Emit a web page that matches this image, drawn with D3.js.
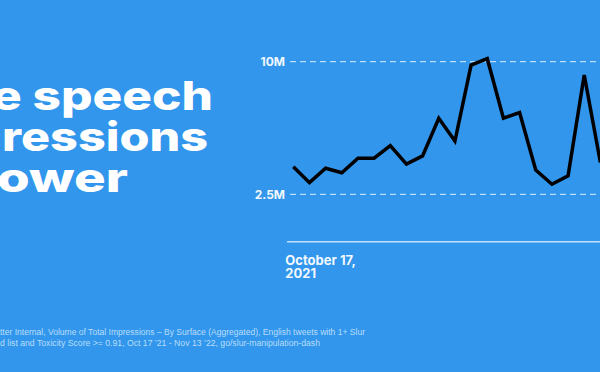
<!DOCTYPE html>
<html>
<head>
<meta charset="utf-8">
<script src="https://cdn.jsdelivr.net/npm/d3@7"></script>
<style>
  body { margin: 0; padding: 0; background: #3196ec; overflow: hidden; }
  svg { display: block; }
  .title { font-family: Inter, "Noto Sans", sans-serif; font-weight: 800; fill: #fff; }
  .tick-label { font-family: Inter, sans-serif; font-weight: 700; fill: #f2f8ff; }
  .note { font-family: "Liberation Sans", Arial, sans-serif; fill: #d6eafc; fill-opacity: 0.85; }
</style>
</head>
<body>
<div id="chart"></div>
<script>
// weekly impressions, starting Oct 17 2021 (millions)
let weekStart = new Date(2021, 9, 17);
let impressions = [4.06, 3.16, 3.97, 3.72, 4.54, 4.54, 5.25, 4.21, 4.67, 6.80,
                   5.51, 9.81, 10.17, 6.80, 7.12, 3.87, 3.07, 3.55, 9.25, 4.30];
let yTicks = [2.5, 10];
let yTickLabels = ["2.5M", "10M"];
let titleLines = ["e speech", "ressions", "ower"];
let dateLabel = ["October 17,", "2021"];
let noteLines = [
  "tter Internal, Volume of Total Impressions \u2013 By Surface (Aggregated), English tweets with 1+ Slur",
  "d list and Toxicity Score >= 0.91, Oct 17 \u201921 - Nov 13 \u201922, go/slur-manipulation-dash"
];

let width = 600, height = 372;

let data = impressions.map(function (v, i) {
  return { date: d3.timeWeek.offset(weekStart, i), value: v };
});

let svg = d3.select("#chart").append("svg")
  .attr("width", width)
  .attr("height", height);

svg.append("rect")
  .attr("width", width)
  .attr("height", height)
  .attr("fill", "#3196ec");

let x = d3.scaleTime()
  .domain([data[0].date, data[data.length - 1].date])
  .range([293.3, 600.4]);

let y = d3.scaleLinear()
  .domain([2.5, 10])
  .range([194.3, 61.7]);

// title (cropped on the left, as in the original)
let titleX = [-8, 2, -3];
let titleLen = [221, 206, 131];
svg.selectAll("text.title")
  .data(titleLines)
  .enter().append("text")
  .attr("class", "title")
  .attr("x", function (d, i) { return titleX[i]; })
  .attr("y", function (d, i) { return 110 + i * 41; })
  .attr("font-size", 40)
  .attr("textLength", function (d, i) { return titleLen[i]; })
  .attr("lengthAdjust", "spacingAndGlyphs")
  .text(function (d) { return d; });

// dashed gridlines
let grid = svg.append("g");
grid.selectAll("line")
  .data(yTicks)
  .enter().append("line")
  .attr("x1", 290)
  .attr("x2", width)
  .attr("y1", function (d) { return y(d); })
  .attr("y2", function (d) { return y(d); })
  .attr("stroke", "#e8f3ff")
  .attr("stroke-opacity", 0.75)
  .attr("stroke-width", 1.2)
  .attr("stroke-dasharray", "6,4");

grid.selectAll("text")
  .data(yTicks)
  .enter().append("text")
  .attr("class", "tick-label")
  .attr("x", 285)
  .attr("y", function (d) { return y(d) + 4.3; })
  .attr("text-anchor", "end")
  .attr("font-size", 12)
  .text(function (d, i) { return yTickLabels[i]; });

// baseline
svg.append("line")
  .attr("x1", 287)
  .attr("x2", width)
  .attr("y1", 241.7)
  .attr("y2", 241.7)
  .attr("stroke", "#e8f3ff")
  .attr("stroke-opacity", 0.8)
  .attr("stroke-width", 1.5);

svg.selectAll("text.date")
  .data(dateLabel)
  .enter().append("text")
  .attr("class", "tick-label date")
  .attr("x", x(data[0].date) - 8)
  .attr("y", function (d, i) { return 265 + i * 12.5; })
  .attr("font-size", 13)
  .text(function (d) { return d; });

// the line
let line = d3.line()
  .x(function (d) { return x(d.date); })
  .y(function (d) { return y(d.value); });

svg.append("path")
  .datum(data)
  .attr("d", line)
  .attr("fill", "none")
  .attr("stroke", "#000")
  .attr("stroke-width", 3.5)
  .attr("stroke-linejoin", "miter");

// source note
let noteLen = [365, 320];
svg.selectAll("text.note")
  .data(noteLines)
  .enter().append("text")
  .attr("class", "note")
  .attr("x", 0)
  .attr("y", function (d, i) { return 335 + i * 11; })
  .attr("font-size", 8.5)
  .attr("textLength", function (d, i) { return noteLen[i]; })
  .attr("lengthAdjust", "spacingAndGlyphs")
  .text(function (d) { return d; });
</script>
</body>
</html>
